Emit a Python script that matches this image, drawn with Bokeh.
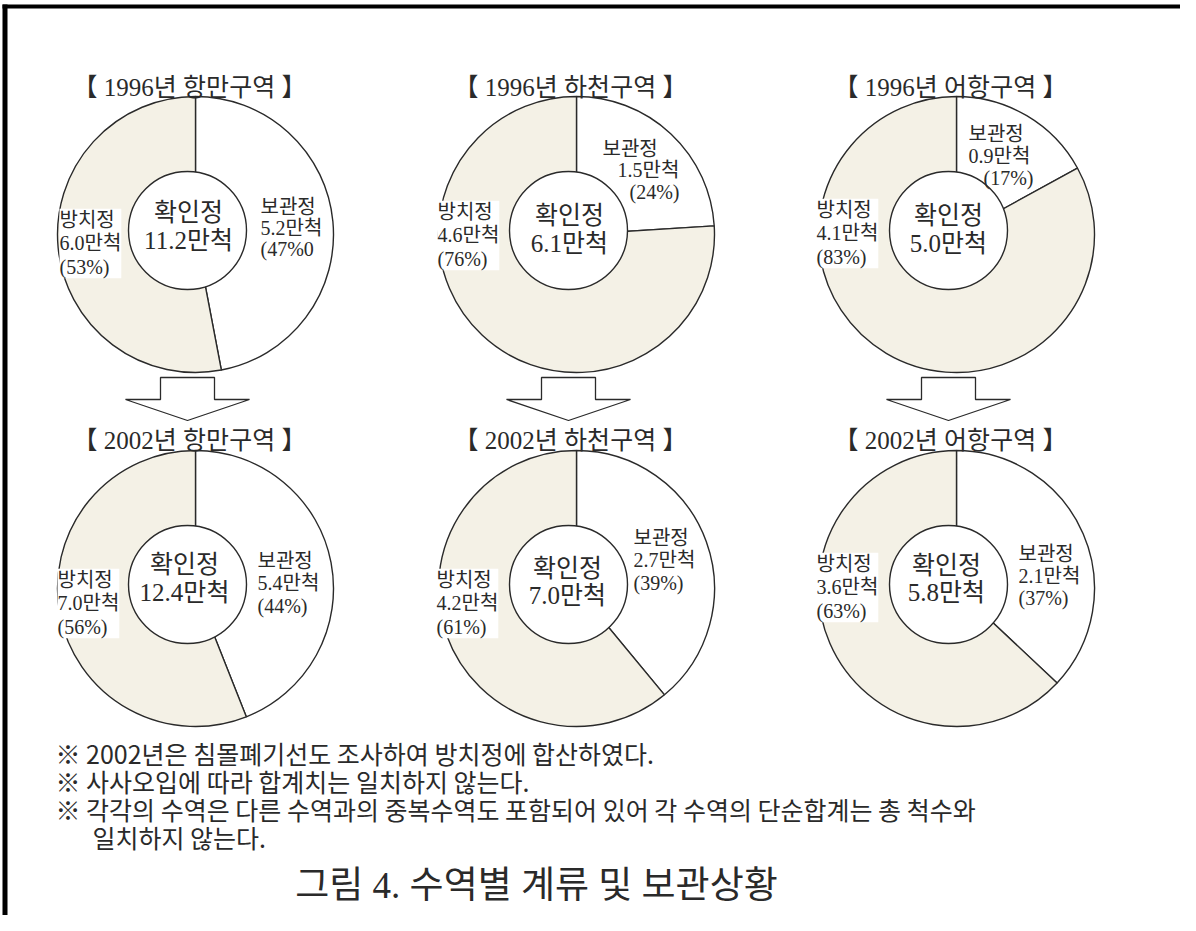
import math
from bokeh.plotting import figure
from bokeh.models import Range1d, ColumnDataSource
from bokeh.core.properties import value
from bokeh.embed import file_html
from bokeh.resources import INLINE

# ---------------- data ----------------
regions = ["항만구역", "하천구역", "어항구역"]
years = ["1996", "2002"]

kept_1996 = [5.2, 1.5, 0.9]          # 보관정 (만척)
kept_pct_1996 = [47, 24, 17]
abandoned_1996 = [6.0, 4.6, 4.1]     # 방치정 (만척)
abandoned_pct_1996 = [53, 76, 83]
total_1996 = [11.2, 6.1, 5.0]        # 확인정 (만척)

kept_2002 = [5.4, 2.7, 2.1]
kept_pct_2002 = [44, 39, 37]
abandoned_2002 = [7.0, 4.2, 3.6]
abandoned_pct_2002 = [56, 61, 63]
total_2002 = [12.4, 7.0, 5.8]

# the printed label of the first chart reads "(47%0" in the original
label_overrides = {(0, 0): "(47%0"}

notes = [
    "※ 2002년은 침몰폐기선도 조사하여 방치정에 합산하였다.",
    "※ 사사오입에 따라 합계치는 일치하지 않는다.",
    "※ 각각의 수역은 다른 수역과의 중복수역도 포함되어 있어 각 수역의 단순합계는 총 척수와",
    "일치하지 않는다.",
]
caption = "그림 4. 수역별 계류 및 보관상황"

# ---------------- layout / style ----------------
W, H = 1180, 915
col_cx = [195, 576, 956]
row_cy = [234, 588]
R_OUT = 138
R_IN = 59
IN_DX, IN_DY = -8, -4
BEIGE = "#f4f1e6"
INK = "#2a2a2a"
SERIF = "'Liberation Serif', 'Noto Sans CJK KR'"
SANS = "'Noto Sans CJK KR'"

title_y = [87, 440]
left_label_pos = [[(59, 243), (437, 235), (816, 233)],
                  [(57, 603), (436, 603), (816, 587)]]
right_label_pos = [
    [[(260, 206), (260, 227), (260, 248)],
     [(602, 148), (617, 169), (629, 191)],
     [(968, 133), (968, 155), (983, 177)]],
    [[(257, 560), (257, 582), (257, 605)],
     [(633, 537), (633, 559), (633, 582)],
     [(1018, 553), (1018, 575), (1018, 597)]],
]
center_label_pos = [[(188, 212, 240), (569, 215, 243), (948, 215, 243)],
                    [(184, 564, 592), (567, 568, 595), (946, 565, 592)]]

def Y(v):
    return -v

p = figure(width=W, height=H, x_range=Range1d(0, W), y_range=Range1d(-H, 0),
           output_backend="svg", toolbar_location=None, min_border=0,
           x_axis_location=None, y_axis_location=None)
p.grid.visible = False
p.outline_line_color = None
p.background_fill_color = "white"
p.border_fill_color = "white"

# frame (left and top edges only, as in the scan)
p.line(x=[4.5, 4.5], y=[Y(4), Y(H)], line_color="black", line_width=5)
p.line(x=[2, W], y=[Y(6), Y(6)], line_color="black", line_width=4)

kept_all = [kept_1996, kept_2002]
kept_pct_all = [kept_pct_1996, kept_pct_2002]
ab_all = [abandoned_1996, abandoned_2002]
ab_pct_all = [abandoned_pct_1996, abandoned_pct_2002]
tot_all = [total_1996, total_2002]

wx, wy, ws, we, wc = [], [], [], [], []
ix, iy = [], []
for r in range(2):
    for c in range(3):
        cx, cy = col_cx[c], Y(row_cy[r])
        kfrac = kept_pct_all[r][c] / 100.0
        afrac = ab_pct_all[r][c] / 100.0
        top = math.pi / 2
        # 보관정: clockwise from 12 o'clock
        wx.append(cx); wy.append(cy); ws.append(top - kfrac * 2 * math.pi); we.append(top); wc.append("white")
        # 방치정: counter-clockwise from 12 o'clock
        wx.append(cx); wy.append(cy); ws.append(top); we.append(top + afrac * 2 * math.pi); wc.append(BEIGE)
        ix.append(cx + IN_DX); iy.append(cy - IN_DY)

p.wedge(x="x", y="y", radius=R_OUT, start_angle="s", end_angle="e", direction="anticlock",
        fill_color="c", line_color=INK, line_width=1.4,
        source=ColumnDataSource(dict(x=wx, y=wy, s=ws, e=we, c=wc)))
p.circle(x=ix, y=iy, radius=R_IN, fill_color="white", line_color=INK, line_width=1.4)

# arrows between the rows
axs, ays = [], []
for c in range(3):
    ax = col_cx[c] - 8
    axs.append([ax - 27, ax + 27, ax + 27, ax + 62, ax, ax - 62, ax - 27])
    ays.append([Y(377), Y(377), Y(399), Y(399), Y(420), Y(399), Y(399)])
p.patches(xs=axs, ys=ays, fill_color="white", line_color=INK, line_width=1.3)

# titles
tx, ty, tt = [], [], []
for r in range(2):
    for c in range(3):
        tx.append(col_cx[c] - 6); ty.append(Y(title_y[r]))
        tt.append(f"【 {years[r]}년 {regions[c]} 】")
p.text(x=tx, y=ty, text=tt, text_align="center", text_baseline="middle",
       text_font=value(SERIF), text_font_size="25px", text_color=INK)

# labels
for r in range(2):
    for c in range(3):
        # 방치정 (left, on a white patch)
        lx, ly = left_label_pos[r][c]
        txt = f"방치정\n{ab_all[r][c]:.1f}만척\n({ab_pct_all[r][c]}%)"
        p.text(x=[lx], y=[Y(ly)], text=[txt], text_align="left", text_baseline="middle",
               text_font=value(SERIF), text_font_size="20px", text_color=INK,
               text_line_height=1.08, background_fill_color="white")
        # 보관정 (right, three staggered lines)
        pct_txt = label_overrides.get((r, c), f"({kept_pct_all[r][c]}%)")
        lines = ["보관정", f"{kept_all[r][c]:.1f}만척", pct_txt]
        pos = right_label_pos[r][c]
        p.text(x=[q[0] for q in pos], y=[Y(q[1]) for q in pos], text=lines,
               text_align="left", text_baseline="middle",
               text_font=value(SERIF), text_font_size="20px", text_color=INK)
        # 확인정 (centre)
        cxl, y1, y2 = center_label_pos[r][c]
        p.text(x=[cxl, cxl], y=[Y(y1), Y(y2)], text=["확인정", f"{tot_all[r][c]:.1f}만척"],
               text_align="center", text_baseline="middle",
               text_font=value(SERIF), text_font_size="25px", text_color=INK)

# notes
note_x = [55, 55, 55, 92]
note_y = [752, 780, 808, 836]
p.text(x=note_x, y=[Y(v) for v in note_y], text=notes, text_align="left", text_baseline="middle",
       text_font=value(SANS), text_font_size="25px", text_color=INK)

# caption
p.text(x=[536], y=[Y(885)], text=[caption], text_align="center", text_baseline="middle",
       text_font=value(SERIF), text_font_size="37px", text_color=INK)

open("out.html", "w").write(file_html(p, INLINE))
